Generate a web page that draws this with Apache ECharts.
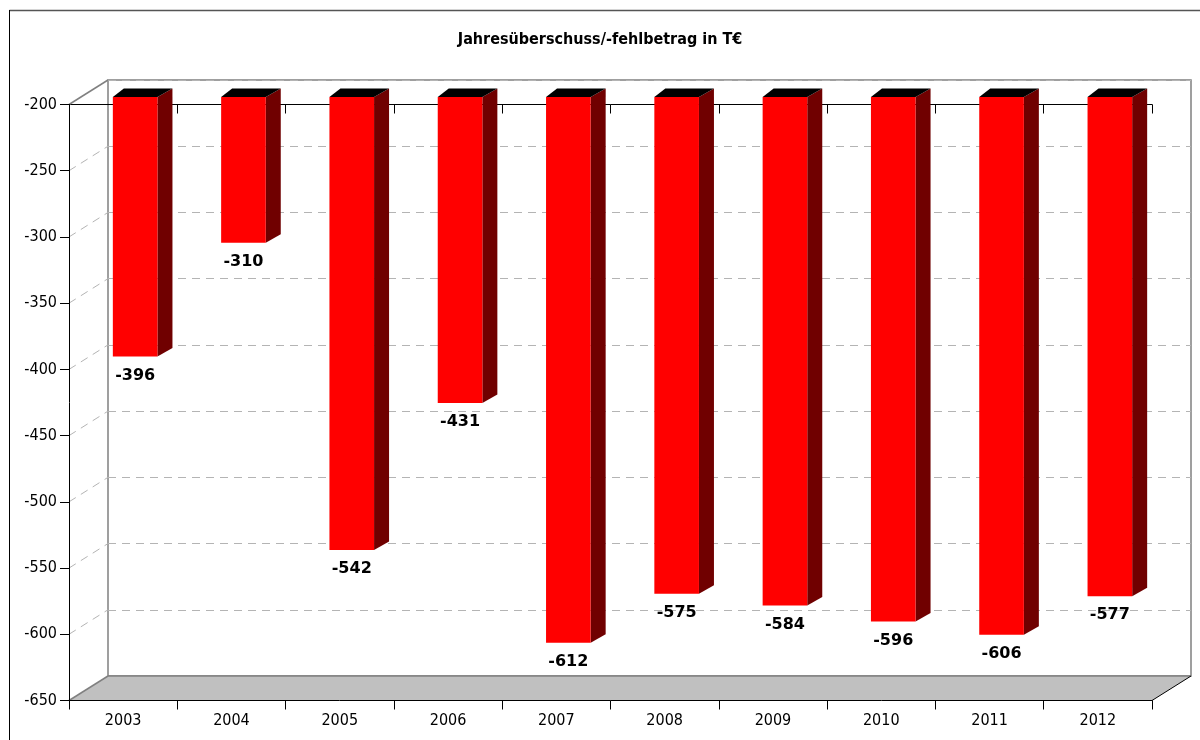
<!DOCTYPE html>
<html>
<head>
<meta charset="utf-8">
<title>Jahresüberschuss/-fehlbetrag</title>
<script src="https://cdn.jsdelivr.net/npm/echarts@6/dist/echarts.min.js"></script>
<style>
  html, body { margin: 0; padding: 0; background: #fff; }
  #chart { width: 1200px; height: 740px; }
</style>
</head>
<body>
<div id="chart"></div>
<script>
// Jahresergebnis je Geschäftsjahr (in T€)
var years = ['2003', '2004', '2005', '2006', '2007', '2008', '2009', '2010', '2011', '2012'];
var result = [-396, -310, -542, -431, -612, -575, -584, -596, -606, -577];
// Wertachse
var axisMin = -650;
var axisMax = -200;
var axisStep = 50;

var FONT = '"DejaVu Sans Condensed", "DejaVu Sans", sans-serif';
var BOLD_FONT = '"DejaVu Sans", sans-serif';

// depth of the 3D box (back wall offset relative to the front plane)
var DEPTH_X = 39, DEPTH_Y = -24.5;
// bar placement inside the box
var BAR_DX = 12, BAR_DY = -7.5;

var chart = echarts.init(document.getElementById('chart'), null, { renderer: 'canvas' });

function renderBar(params, api) {
  var i = api.value(0);
  var v = api.value(1);
  var top = api.coord([i, axisMax]);
  var bot = api.coord([i, v]);
  var band = api.size([1, 0])[0];
  var w = band * 0.412;
  var cx = top[0] + BAR_DX;
  var x0 = cx - w / 2, x1 = cx + w / 2;
  var y0 = top[1] + BAR_DY, y1 = bot[1] + BAR_DY;
  return {
    type: 'group',
    children: [
      { type: 'polygon', shape: { points: [[x1, y0], [x1 + 15, y0 - 8.5], [x1 + 15, y1 - 8.5], [x1, y1]] },
        style: { fill: '#700000' } },
      { type: 'polygon', shape: { points: [[x0, y0], [x0 + 11, y0 - 8.5], [x1 + 15, y0 - 8.5], [x1, y0]] },
        style: { fill: '#000000' } },
      { type: 'rect', shape: { x: x0, y: y0, width: w, height: y1 - y0 },
        style: { fill: '#ff0000' } },
      { type: 'text', x: cx, y: y1 + 11,
        style: { text: String(v), fill: '#000', font: 'bold 16px ' + BOLD_FONT, align: 'center', verticalAlign: 'top' } }
    ]
  };
}

// floor and the connecting edges of the box
function renderBox(params, api) {
  var cs = params.coordSys;
  var L = cs.x, T = cs.y, R = cs.x + cs.width, B = cs.y + cs.height;
  return {
    type: 'group',
    children: [
      { type: 'polygon', shape: { points: [[L, B], [L + DEPTH_X, B + DEPTH_Y], [R + DEPTH_X, B + DEPTH_Y], [R, B]] },
        style: { fill: '#c0c0c0' } },
      { type: 'line', shape: { x1: L, y1: B, x2: L + DEPTH_X, y2: B + DEPTH_Y }, style: { stroke: '#808080', lineWidth: 1.5 } },
      { type: 'line', shape: { x1: L + DEPTH_X, y1: B + DEPTH_Y, x2: R + DEPTH_X, y2: B + DEPTH_Y }, style: { stroke: '#808080', lineWidth: 1.5 } },
      { type: 'line', shape: { x1: R, y1: B, x2: R + DEPTH_X, y2: B + DEPTH_Y }, style: { stroke: '#000', lineWidth: 1 } },
      { type: 'line', shape: { x1: L, y1: T, x2: L + DEPTH_X, y2: T + DEPTH_Y }, style: { stroke: '#808080', lineWidth: 1.5 } }
    ]
  };
}

// dashed grid lines on the left side wall
function renderSideGrid(params, api) {
  var cs = params.coordSys;
  var p = api.coord([0, api.value(0)]);
  var L = cs.x;
  return {
    type: 'line',
    shape: { x1: L, y1: p[1], x2: L + DEPTH_X, y2: p[1] + DEPTH_Y },
    style: { stroke: '#b4b4b4', lineWidth: 1, lineDash: [8, 6] }
  };
}

var sideTicks = [];
for (var t = axisMin + axisStep; t < axisMax; t += axisStep) sideTicks.push([t]);

var option = {
  animation: false,
  backgroundColor: '#fff',
  title: {
    text: 'Jahresüberschuss/-fehlbetrag in T€',
    left: 'center',
    top: 27,
    textStyle: { fontFamily: FONT, fontWeight: 'bold', fontSize: 16, color: '#000' }
  },
  graphic: [
    { type: 'line', shape: { x1: 9.5, y1: 10.5, x2: 1200, y2: 10.5 }, style: { stroke: '#555', lineWidth: 1.5 }, z: 10 },
    { type: 'line', shape: { x1: 9.5, y1: 10, x2: 9.5, y2: 740 }, style: { stroke: '#000', lineWidth: 1 }, z: 10 }
  ],
  grid: [
    { left: 69, top: 104.5, right: 48, bottom: 39.5, show: false },
    { left: 69 + DEPTH_X, top: 104.5 + DEPTH_Y, right: 48 - DEPTH_X, bottom: 39.5 - DEPTH_Y,
      show: true, borderColor: '#808080', borderWidth: 1.5, backgroundColor: 'transparent' }
  ],
  xAxis: [
    { type: 'category', gridIndex: 0, data: years, position: 'bottom', z: 6,
      axisLine: { show: true, lineStyle: { color: '#000', width: 1 } },
      axisTick: { show: true, interval: 0, length: 9, lineStyle: { color: '#000', width: 1 } },
      axisLabel: { fontFamily: FONT, fontSize: 16, color: '#000', margin: 12 } },
    { type: 'category', gridIndex: 0, data: years, position: 'top', z: 1,
      axisLine: { show: true, lineStyle: { color: '#000', width: 1 } },
      axisTick: { show: true, interval: 0, inside: true, length: 9, lineStyle: { color: '#000', width: 1 } },
      axisLabel: { show: false } },
    { type: 'category', gridIndex: 1, data: years, show: false }
  ],
  yAxis: [
    { type: 'value', gridIndex: 0, min: axisMin, max: axisMax, interval: axisStep, z: 6,
      axisLine: { show: true, lineStyle: { color: '#000', width: 1 } },
      axisTick: { show: true, length: 9, lineStyle: { color: '#000', width: 1 } },
      axisLabel: { fontFamily: FONT, fontSize: 16, color: '#000', margin: 12 },
      splitLine: { show: false } },
    { type: 'value', gridIndex: 1, min: axisMin, max: axisMax, interval: axisStep,
      axisLine: { show: false }, axisTick: { show: false }, axisLabel: { show: false },
      splitLine: { show: true, lineStyle: { color: '#b4b4b4', width: 1, type: [8, 6] } } }
  ],
  series: [
    { type: 'custom', name: 'box', xAxisIndex: 0, yAxisIndex: 0, z: 2, silent: true,
      renderItem: renderBox, data: [[0, axisMin]] },
    { type: 'custom', name: 'side', xAxisIndex: 0, yAxisIndex: 0, z: 2, silent: true,
      renderItem: renderSideGrid, encode: { y: 0 }, data: sideTicks },
    { type: 'custom', name: 'Jahresergebnis', xAxisIndex: 0, yAxisIndex: 0, z: 3,
      renderItem: renderBar, encode: { x: 0, y: 1 },
      data: result.map(function (v, i) { return [i, v]; }) }
  ]
};

chart.setOption(option);
</script>
</body>
</html>
